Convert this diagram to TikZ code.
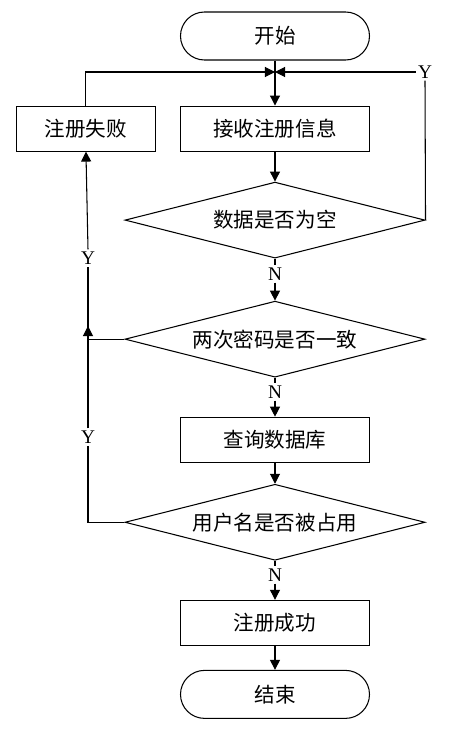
\documentclass[tikz,border=0pt]{standalone}
\usepackage{fontspec}
\setmainfont{Liberation Serif}
\newfontfamily\cjk{Noto Sans CJK SC}
\usepackage{tikz}
\usetikzlibrary{shapes,arrows.meta,positioning,calc}

\begin{document}
\begin{tikzpicture}[node distance=0.6cm, >={Triangle[width=0.2cm,length=0.2cm]}, line width=0.6pt,
        box/.style={draw, minimum width=3.78cm, minimum height=0.9cm, inner sep=0pt, font=\cjk\fontsize{11.7}{14}\selectfont},
        term/.style={box, rounded corners=0.48cm, minimum height=0.96cm},
        cond/.style={draw, diamond, shape aspect=3.95, minimum width=6cm, minimum height=1.52cm, inner sep=0pt, font=\cjk\fontsize{11.7}{14}\selectfont},
        lab/.style={inner sep=1pt, font=\fontsize{11}{12}\selectfont}]
            \useasboundingbox (-5.5,0.72) rectangle (3.56,-13.86);
            \node[term] (start) {开始};
            \node[box, below=0.9cm of start] (recv) {接收注册信息};
            \node[box, left=0.48cm of recv, minimum width=2.78cm] (fail) {注册失败};
            \node[cond, below=0.6cm of recv] (empty) {数据是否为空};
            \node[cond, below=0.84cm of empty] (same) {两次密码是否一致};
            \node[box, below=0.78cm of same] (query) {查询数据库};
            \node[cond, below=0.42cm of query] (used) {用户名是否被占用};
            \node[box, below=0.78cm of used] (ok) {注册成功};
            \node[term, below=0.48cm of ok] (stop) {结束};

            \coordinate (join) at (0,-0.72);
            \coordinate (up) at (-3.74,-5.8);
            \node[lab] (ytop) at (3,-0.72) {Y};
            \node[lab] (yleft1) at (-3.74,-4.44) {Y};
            \node[lab] (yleft2) at (-3.74,-8.02) {Y};
            \node[lab] (n1) at (0,-4.76) {N};
            \node[lab] (n2) at (0,-7.12) {N};
            \node[lab] (n3) at (0,-10.78) {N};

            \draw[->] (start) -- (recv);
            \draw[->] (fail.north) |- (join);
            \draw (empty.east) -- (ytop.south);
            \draw[->] (ytop.west) -- (join);
            \draw[->] (recv) -- (empty);
            \draw (empty) -- (n1);
            \draw[->] (n1) -- (same);
            \draw (same) -- (n2);
            \draw[->] (n2) -- (query);
            \draw[->] (query) -- (used);
            \draw (used) -- (n3);
            \draw[->] (n3) -- (ok);
            \draw[->] (ok) -- (stop);
            \draw (used.west) -| (yleft2.south);
            \draw[->] (yleft2.north) -- (up);
            \draw (same.west) -| (yleft1.south);
            \draw[->] (yleft1.north) -- (fail.south);
        \end{tikzpicture}
\end{document}
